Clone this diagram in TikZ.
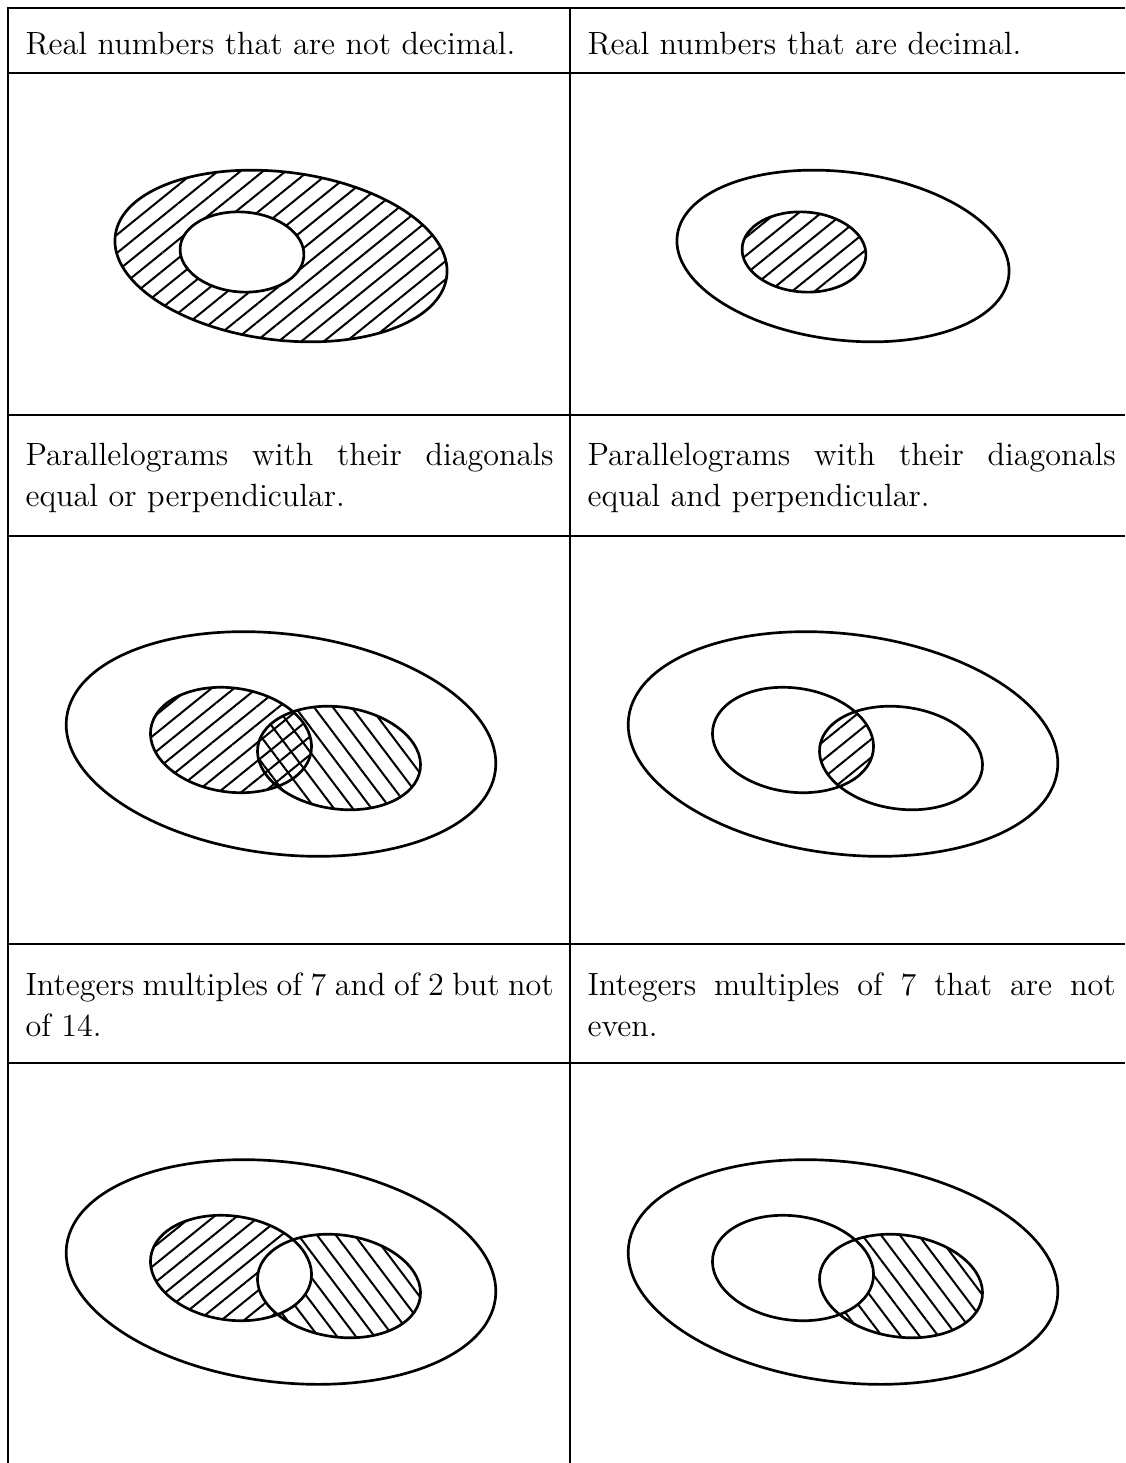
\documentclass[12pt,tikz,border=0pt]{standalone}
\usepackage{xcolor}
\usepackage{tikz}
\usetikzlibrary{patterns.meta, positioning}
\tikzstyle{rule} = [line width=1.1pt, draw=black]
\tikzstyle{caption} = [
    rectangle,
    anchor=north west,
    inner sep=0pt,
    text width=197pt,
    align=justify,
    font=\fontsize{12}{15.3}\selectfont
]
\tikzstyle{set} = [line width=1pt, draw=black]
\tikzstyle{hatchne} = [pattern={Lines[angle=39, distance=5.3pt, line width=0.75pt]}]
\tikzstyle{hatchnw} = [pattern={Lines[angle=-53, distance=5.6pt, line width=0.75pt]}]
\tikzset{
    outerone/.style={insert path={(#1) ellipse [x radius=167, y radius=84, rotate=-7]}},
    innerone/.style={insert path={(#1) ellipse [x radius=62, y radius=40, rotate=-4]}},
    outerset/.style={insert path={(#1) ellipse [x radius=216, y radius=110, rotate=-7]}},
    leftset/.style={insert path={(#1) ellipse [x radius=81, y radius=52, rotate=-8]}},
    rightset/.style={insert path={(#1) ellipse [x radius=82, y radius=51, rotate=-8]}}
}

\begin{document}
\begin{tikzpicture}[x=0.373pt, y=-0.373pt]
    \useasboundingbox (0,0) rectangle (1125,1463);

    % Table rules
    \draw[rule] (8,1463) -- (8,8) -- (1125,8);
    \draw[rule] (570,8) -- (570,1463);
    \foreach \y in {73, 415, 536, 944, 1063}
        \draw[rule] (8,\y) -- (1125,\y);

    % Captions
    \node[caption] (notdec) at (25,32) {Real numbers that are not decimal.};
    \node[caption] (dec) at (587,32) {Real numbers that are decimal.};
    \node[caption] (orpar) at (25,443) {Parallelograms with their diagonals\linebreak equal or perpendicular.};
    \node[caption] (andpar) at (587,443) {Parallelograms with their diagonals\linebreak equal and perpendicular.};
    \node[caption] (notfourteen) at (25,972) {Integers multiples of 7 and of 2 but not\linebreak of 14.};
    \node[caption] (noteven) at (587,972) {Integers multiples of 7 that are not\linebreak even.};

    % Row 1: not decimal / decimal
    \path[hatchne, even odd rule, outerone={281,256}, innerone={242,252}];
    \draw[set, outerone={281,256}];
    \draw[set, innerone={242,252}];
    \path[hatchne, innerone={804,252}];
    \draw[set, outerone={843,256}];
    \draw[set, innerone={804,252}];

    % Row 2: or / and
    \path[hatchne, leftset={231,740}];
    \path[hatchnw, rightset={339,758}];
    \begin{scope}
        \clip[leftset={793,740}];
        \path[hatchne, rightset={901,758}];
    \end{scope}
    \foreach \dx in {0, 562} {
        \draw[set, outerset={281+\dx,744}];
        \draw[set, leftset={231+\dx,740}];
        \draw[set, rightset={339+\dx,758}];
    }

    % Row 3: but not 14 / not even
    \begin{scope}
        \clip[leftset={231,1268}];
        \path[hatchne, even odd rule, leftset={231,1268}, rightset={339,1286}];
    \end{scope}
    \begin{scope}
        \clip[rightset={339,1286}];
        \path[hatchnw, even odd rule, leftset={231,1268}, rightset={339,1286}];
    \end{scope}
    \begin{scope}
        \clip[rightset={901,1286}];
        \path[hatchnw, even odd rule, leftset={793,1268}, rightset={901,1286}];
    \end{scope}
    \foreach \dx in {0, 562} {
        \draw[set, outerset={281+\dx,1272}];
        \draw[set, leftset={231+\dx,1268}];
        \draw[set, rightset={339+\dx,1286}];
    }
\end{tikzpicture}
\end{document}
